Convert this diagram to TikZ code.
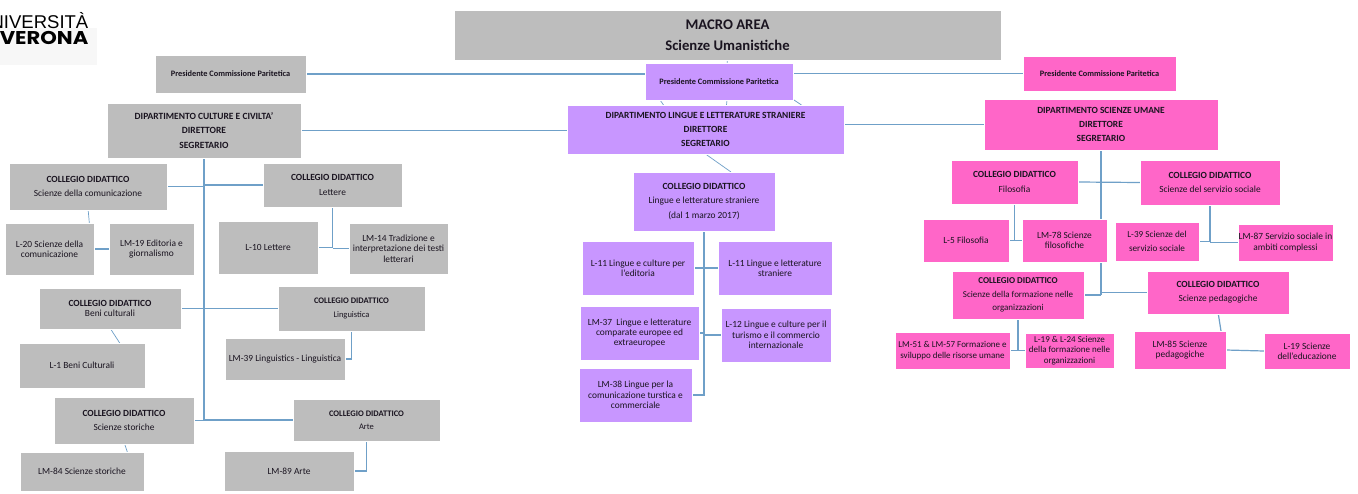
\documentclass[tikz,border=0pt]{standalone}
\usepackage{graphicx}
\usepackage{fontspec}
\setmainfont{Carlito}
\newfontfamily\logofont{Liberation Sans}
\newfontfamily\logobold{Poppins}
\usetikzlibrary{backgrounds}
\definecolor{gfill}{HTML}{BDBDBD}
\definecolor{pfill}{HTML}{C896FF}
\definecolor{mfill}{HTML}{FF66C8}
\definecolor{linecol}{HTML}{6FA0C8}
\definecolor{inkcol}{HTML}{1A1420}
\tikzset{
  basebox/.style={inner sep=0pt,outer sep=0pt,align=center,text=inkcol,draw=white,line width=1pt},
  gbox/.style={basebox,fill=gfill},
  pbox/.style={basebox,fill=pfill},
  mbox/.style={basebox,fill=mfill},
  conn/.style={draw=linecol,line width=1.2pt},
  tick/.style={draw=linecol,line width=0.7pt},
  head/.style={font=\fontsize{9.4}{14.4}\selectfont},
  dept/.style={font=\fontsize{9.5}{14.2}\selectfont\bfseries},
  deptw/.style={font=\fontsize{9.4}{14.4}\selectfont\bfseries},
  pres/.style={font=\fontsize{8.3}{12}\selectfont\bfseries},
  small/.style={font=\fontsize{9.4}{10.4}\selectfont}
}
\newcommand{\bx}[7][]{\node[#1,minimum width={(#4)-(#2)},minimum height={(#5)-(#3)}] (#6) at ({((#2)+(#4))/2},{((#3)+(#5))/2}) {#7};}
\newcommand{\coll}[1]{\textbf{COLLEGIO DIDATTICO}\\#1}
\begin{document}
\begin{tikzpicture}[x=1pt,y=-1pt]
\useasboundingbox (0,0) rectangle (1358,493);
% logo
\fill[white!97!black] (0,28) rectangle (97,65);
\begin{scope}
\clip (0,0) rectangle (97,65);
\node[anchor=base east,inner sep=0pt,font=\logofont\fontsize{18.5}{20}\selectfont,text=black] (logoa) at (88.5,28) {UNIVERSITÀ};
\node[anchor=base east,inner sep=0pt,font=\logobold\bfseries\fontsize{18.5}{19}\selectfont,text=black] (logob) at (88.5,44.5) {\scalebox{1.14}[1]{VERONA}};
\end{scope}
% top
\bx[gbox,font=\fontsize{14.7}{21}\selectfont\bfseries]{454}{10}{1001}{60}{macro}{MACRO AREA\\Scienze Umanistiche}
\bx[gbox,pres]{155}{55}{306}{93}{pl}{Presidente Commissione Paritetica}
\bx[pbox,pres]{645}{63}{793}{100}{pm}{Presidente Commissione Paritetica}
\bx[mbox,pres]{1023}{56}{1176}{91}{pr}{Presidente Commissione Paritetica}
\bx[gbox,dept]{107}{103}{301}{158}{dc}{DIPARTIMENTO CULTURE E CIVILTA'\\DIRETTORE\\SEGRETARIO}
\bx[pbox,deptw]{567}{105}{844}{154}{dl}{DIPARTIMENTO LINGUE E LETTERATURE STRANIERE\\DIRETTORE\\SEGRETARIO}
\bx[mbox,deptw]{984}{99}{1218}{150}{ds}{DIPARTIMENTO SCIENZE UMANE\\DIRETTORE\\SEGRETARIO}
% left
\bx[gbox,head]{9}{163}{167}{210}{csc}{\coll{Scienze della comunicazione}}
\bx[gbox,head]{263}{163}{402}{207}{cle}{\coll{Lettere}}
\bx[gbox,small]{5}{223}{94}{275}{la}{L-20 Scienze della\\comunicazione}
\bx[gbox,small]{109}{223}{194}{275}{lb}{LM-19 Editoria e\\giornalismo}
\bx[gbox,small]{218}{221}{318}{274}{lc}{L-10 Lettere}
\bx[gbox,small]{349}{223}{448}{274}{ld}{LM-14 Tradizione e\\interpretazione dei testi\\letterari}
\bx[gbox,font=\fontsize{9.4}{10.5}\selectfont]{39}{288}{181}{329}{cbe}{\coll{Beni culturali}}
\bx[gbox,font=\fontsize{8.5}{14}\selectfont]{278}{286}{425}{331}{cli}{\coll{Linguistica}}
\bx[gbox,small]{19}{343}{145}{388}{le}{L-1 Beni Culturali}
\bx[gbox,small]{225}{338}{345}{380}{lf}{LM-39 Linguistics - Linguistica}
\bx[gbox,head]{54}{397}{194}{444}{cst}{\coll{Scienze storiche}}
\bx[gbox,font=\fontsize{8.5}{13}\selectfont]{293}{399}{440}{441}{car}{\coll{Arte}}
\bx[gbox,small]{20}{452}{144}{491}{lg}{LM-84 Scienze storiche}
\bx[gbox,small]{224}{451}{354}{491}{lh}{LM-89 Arte}
% middle
\bx[pbox,head]{633}{172}{775}{231}{cls}{\coll{Lingue e letterature straniere\\(dal 1 marzo 2017)}}
\bx[pbox,small]{582}{241}{694}{295}{ma}{L-11 Lingue e culture per\\l'editoria}
\bx[pbox,small]{718}{241}{832}{295}{mb}{L-11 Lingue e letterature\\straniere}
\bx[pbox,small]{580}{306}{699}{360}{mc}{LM-37~ Lingue e letterature\\comparate europee ed\\extraeuropee}
\bx[pbox,small]{721}{308}{831}{362}{md}{L-12 Lingue e culture per il\\turismo e il commercio\\internazionale}
\bx[pbox,small]{579}{368}{692}{422}{me}{LM-38 Lingue per la\\comunicazione turstica e\\commerciale}
% right
\bx[mbox,head]{951}{160}{1078}{204}{cfi}{\coll{Filosofia}}
\bx[mbox,head]{1140}{160}{1280}{205}{cse}{\coll{Scienze del servizio sociale}}
\bx[mbox,small]{923}{219}{1009}{262}{ra}{L-5 Filosofia}
\bx[mbox,small]{1022}{219}{1107}{262}{rb}{LM-78 Scienze\\filosofiche}
\bx[mbox,font=\fontsize{9.2}{14}\selectfont]{1115}{222}{1199}{261}{rc}{L-39 Scienze del\\servizio sociale}
\bx[mbox,small]{1238}{224}{1333}{261}{rd}{LM-87 Servizio sociale in\\ambiti complessi}
\bx[mbox,font=\fontsize{9}{13.4}\selectfont]{952}{271}{1084}{319}{cfo}{\coll{Scienze della formazione nelle\\organizzazioni}}
\bx[mbox,head]{1147}{271}{1289}{314}{cpe}{\coll{Scienze pedagogiche}}
\bx[mbox,font=\fontsize{9}{10.4}\selectfont]{895}{332}{1010}{369}{re}{LM-51 \& LM-57 Formazione e\\sviluppo delle risorse umane}
\bx[mbox,font=\fontsize{9}{10.4}\selectfont]{1025}{333}{1114}{368}{rf}{L-19 \& L-24 Scienze\\della formazione nelle\\organizzazioni}
\bx[mbox,small]{1134}{331}{1226}{369}{rg}{LM-85 Scienze\\pedagogiche}
\bx[mbox,small]{1264}{333}{1350}{369}{rh}{L-19 Scienze\\dell'educazione}
% connectors
\begin{pgfonlayer}{background}
\fill[white] (0,0) rectangle (1358,493);
\draw[conn] (pl.east) -- (pm.west |- pl.east);
\draw[conn] (pm.east |- pr.west) -- (pr.west);
\draw[conn] (dc.east) -- (dl.west |- dc.east);
\draw[conn] (dl.east |- ds.west) -- (ds.west);
% left spine
\draw[conn] (dc.south) -- (dc.south |- cst.east);
\draw[conn] (csc.east) -- (csc.east -| dc.south);
\draw[conn] (cle.west) -- (cle.west -| dc.south);
\draw[conn] (cbe.east) -- (cbe.east -| dc.south);
\draw[conn] (cli.west) -- (cli.west -| dc.south);
\draw[conn] (cst.east) -- (cst.east -| dc.south);
\draw[conn] (car.west) -- (car.west -| dc.south);
\draw[conn] (la.east) -- (lb.west |- la.east);
\draw[conn] (cle.south) -- (cle.south |- lc.east);
\draw[conn] (lc.east) -- (cle.south |- lc.east);
\draw[conn] (ld.west) -- (cle.south |- ld.west);
\draw[conn] (cli.south) |- (lf.east);
\draw[conn] (car.south) |- (lh.east);
\draw[tick] ([yshift=2pt]csc.south) -- ([xshift=40pt,yshift=-2pt]la.north);
\draw[tick] ([yshift=1pt]cbe.south) -- ([xshift=39pt,yshift=-2pt]le.north);
\draw[tick] ([yshift=2pt]cst.south) -- ([xshift=46pt,yshift=-2pt]lg.north);
% middle
\draw[tick] ([yshift=1pt]macro.south) -- ([xshift=8pt,yshift=-1pt]pm.north);
\draw[tick] ([xshift=-59pt]pm.south) -- ([xshift=-42pt]dl.north);
\draw[tick] ([xshift=8pt]pm.south) -- ([xshift=21pt]dl.north);
\draw[tick] ([xshift=75pt]pm.south) -- ([xshift=96pt]dl.north);
\draw[tick] (dl.south) -- ([xshift=27pt]cls.north);
\draw[conn] (cls.south) -- (cls.south |- me.east) -- (me.east);
\draw[conn] (ma.east) -- (mb.west);
\draw[conn] (mc.east) -- (mc.east -| cls.south);
\draw[conn] (md.west) -- (md.west -| cls.south);
% right
\draw[conn] (ds.south) -- (ds.south |- cfo.east);
\draw[conn] (cfi.east) -- (cse.west);
\draw[conn] (cfo.east) -- (cfo.east -| ds.south);
\draw[conn] (cpe.west) -- (cpe.west -| ds.south);
\draw[conn] (cfi.south) -- (cfi.south |- ra.east);
\draw[conn] (ra.east) -- (rb.west);
\draw[conn] (cse.south) -- (cse.south |- rc.east);
\draw[conn] (rc.east) -- (cse.south |- rc.east);
\draw[conn] (rd.west) -- (cse.south |- rd.west);
\draw[conn] (cfo.south) -- (cfo.south |- re.east);
\draw[conn] (re.east) -- (rf.west);
\draw[conn] ([yshift=2pt]cpe.south) -- ([xshift=41pt]rg.north);
\draw[conn] (rg.east) -- (rh.west);
\end{pgfonlayer}
\end{tikzpicture}
\end{document}
